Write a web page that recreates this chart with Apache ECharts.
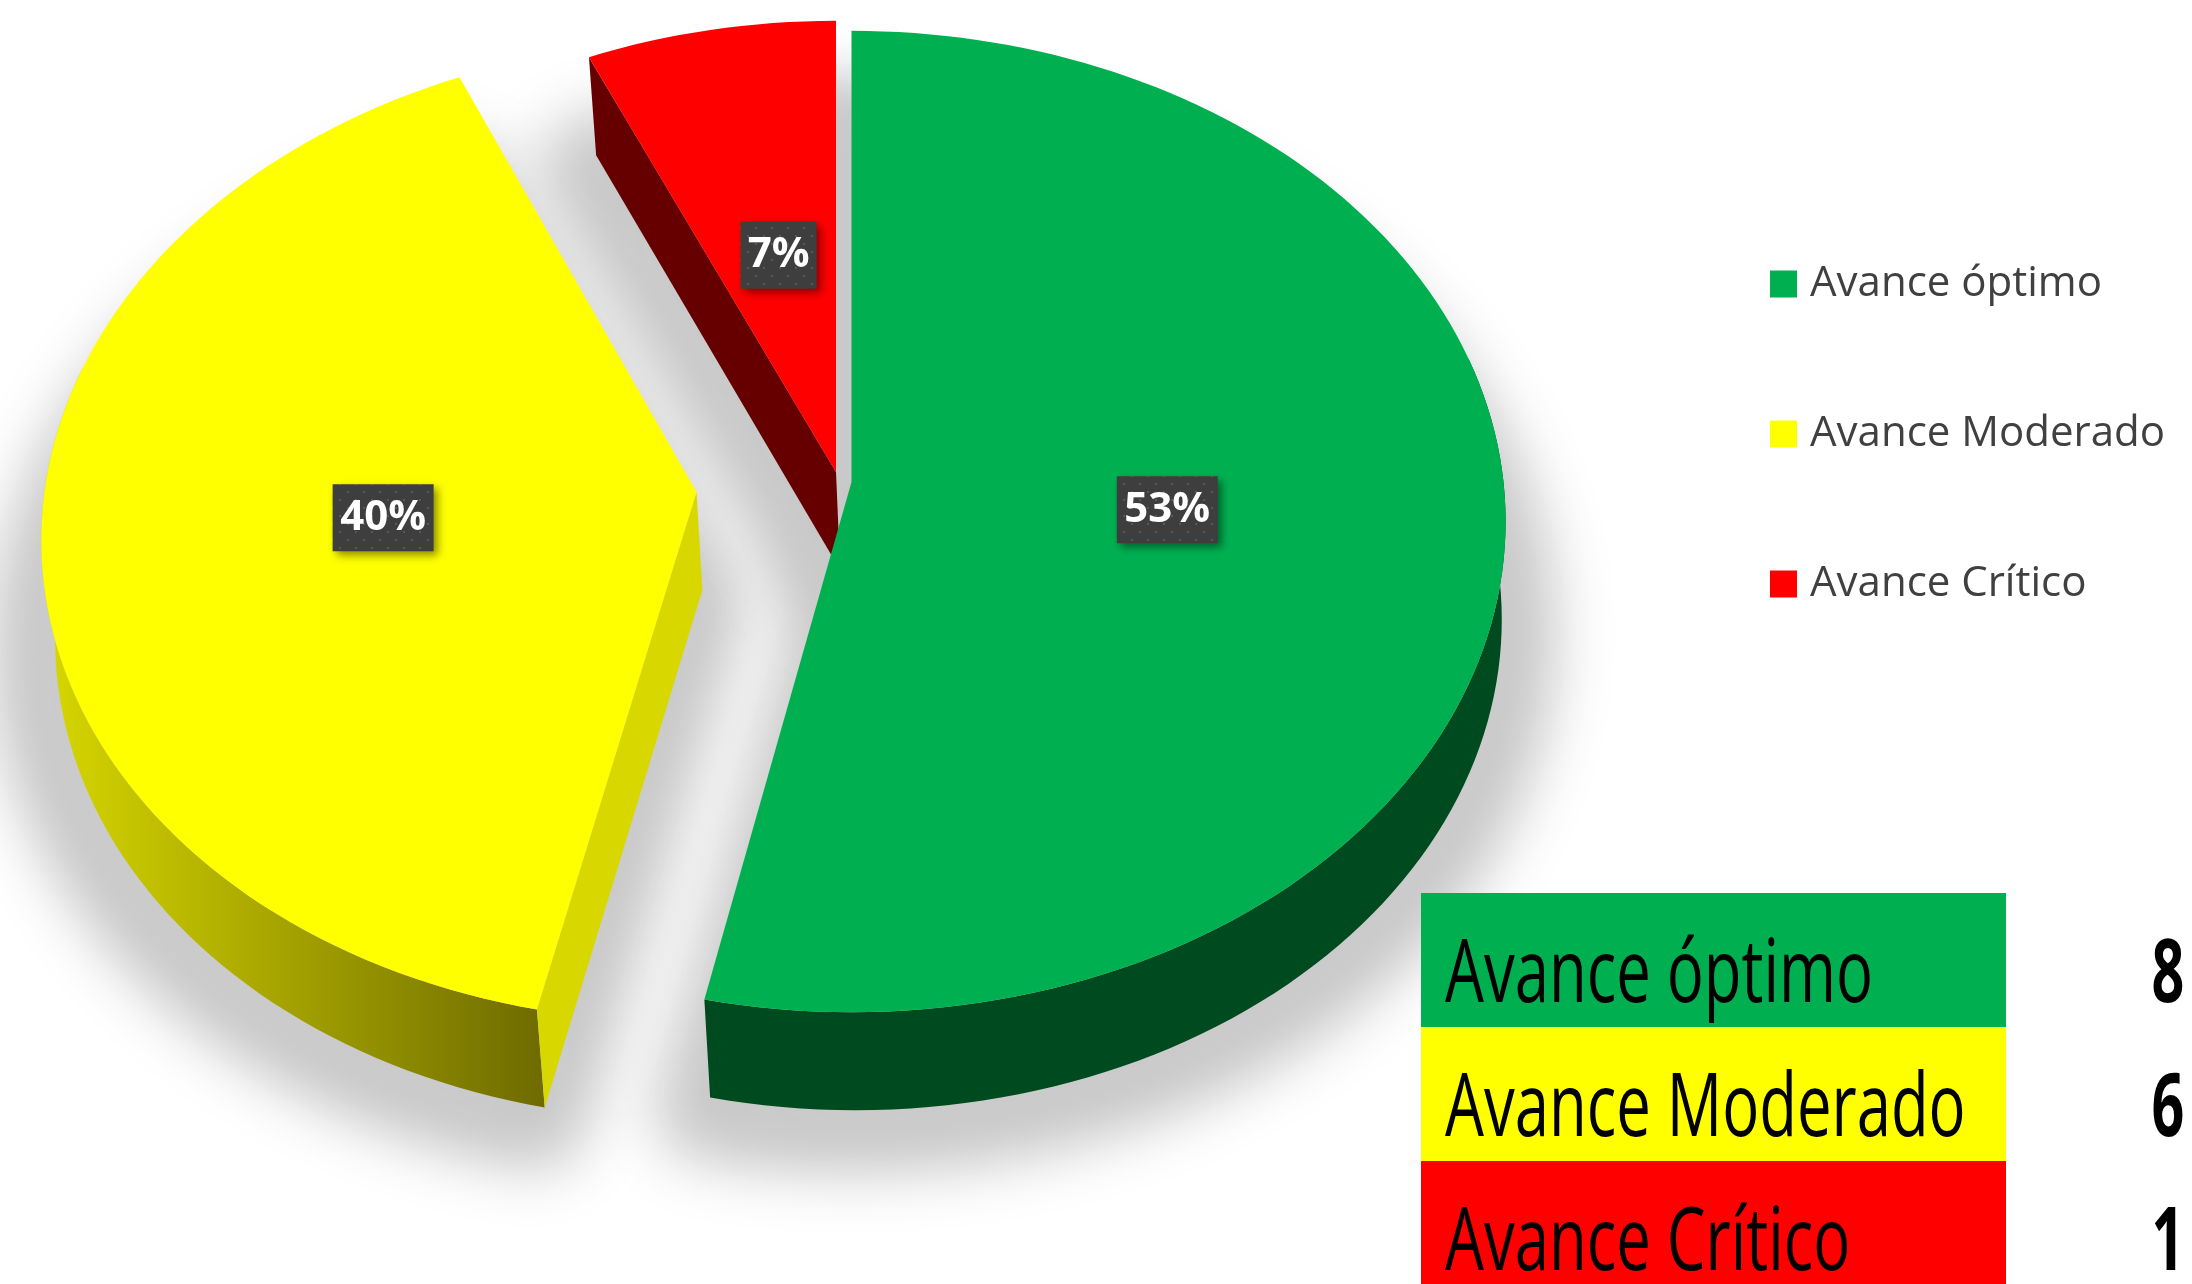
<!DOCTYPE html>
<html><head><meta charset="utf-8">
<style>html,body{margin:0;padding:0;background:#fff}#c{width:2192px;height:1284px}</style>
<script src="https://cdn.jsdelivr.net/npm/echarts@6/dist/echarts.min.js"></script>
</head><body><div id="c"></div>
<script>
const categories = ['Avance óptimo', 'Avance Moderado', 'Avance Crítico'];
const counts = [8, 6, 1];
const colors = ['#00B050', '#FFFF00', '#FF0000'];

// Projection of the tilted disc
const AX = 851.5, AY = 482, K = 652, VK = 487.5, P = 0.0805, DEPTH = 98, BOTTOM_SCALE = 0.988, WALL_DX = 4;
const explode = [[0, 0], [-155, 10], [-15.5, -10]];
const shear = [0, -0.024, 0];
const labelFrac = [0.485, 0.485, 0.478];
const labelNudge = [[0, 0], [3, -2], [5, 0]];
const total = counts.reduce((a, b) => a + b, 0);
const startAngles = counts.map((_, i) => counts.slice(0, i).reduce((a, b) => a + b, 0) / total * 360);
const spans = counts.map(v => v / total * 360);

function proj(deg, f, i) {
  const t = deg * Math.PI / 180, u = Math.sin(t) * f, v = -Math.cos(t) * f, s = 1 / (1 - P * v);
  const dy = VK * v * s;
  return [AX + explode[i][0] + K * u * s + shear[i] * dy, AY + explode[i][1] + dy];
}
const down = p => [AX + (p[0] - AX) * BOTTOM_SCALE + WALL_DX, p[1] + DEPTH];
function arc(a, b, i) {
  const n = Math.max(8, Math.ceil(Math.abs(b - a) / 1.5)), o = [];
  for (let k = 0; k <= n; k++) o.push(proj(a + (b - a) * k / n, 1, i));
  return o;
}
const poly = (pts, fill) => ({ type: 'polygon', shape: { points: pts }, style: { fill } });

function dotted() {
  const c = document.createElement('canvas'); c.width = c.height = 16;
  const g = c.getContext('2d');
  g.fillStyle = '#3e3e3e'; g.fillRect(0, 0, 16, 16);
  g.fillStyle = '#585858';
  g.fillRect(3, 3, 2, 2); g.fillRect(11, 11, 2, 2);
  return c;
}
const dots = dotted();

function slice(i) {
  return function (params, api) {
    const s = startAngles[i], e = s + spans[i];
    const apex = proj(0, 0, i), top = arc(s, e, i);
    const kids = [];
    if (i === 0) {
      const w = arc(75, e, i);
      kids.push(poly(w.concat(w.map(down).reverse()), '#004A20'));
    } else if (i === 1) {
      const w = arc(s, 285, i);
      kids.push(poly(w.concat(w.map(down).reverse()), {
        type: 'linear', x: 40, y: 0, x2: 545, y2: 0, global: true,
        colorStops: [{ offset: 0, color: '#D8D800' }, { offset: 1, color: '#6E6A00' }]
      }));
      const f = proj(s, 1, i);
      kids.push(poly([apex, f, down(f), down(apex)], '#D8D800'));
    } else {
      const b = proj(s, 1, i);
      kids.push(poly([b, apex, down(apex), down(b)], '#660000'));
    }
    kids.push(poly([apex].concat(top), api.visual('color')));

    // Data label
    const mid = s + spans[i] / 2, c = proj(mid, labelFrac[i], i);
    const txt = Math.round(api.value(0) / total * 100) + '%';
    const w = 25 * txt.length + 26, h = 67, cx = c[0] + labelNudge[i][0], cy = c[1] + 3 + labelNudge[i][1];
    kids.push({
      type: 'rect', shape: { x: cx - w / 2, y: cy - h / 2, width: w, height: h },
      style: { fill: { image: dots, repeat: 'repeat' }, shadowBlur: 9, shadowOffsetX: 4, shadowOffsetY: 4, shadowColor: 'rgba(0,0,0,0.45)' }
    });
    kids.push({
      type: 'text', x: cx, y: cy,
      style: { text: txt, fill: '#fff', font: 'bold 42px "Open Sans"', align: 'center', verticalAlign: 'middle' }
    });
    return { type: 'group', children: kids };
  };
}

// Only the soft shadow reaches the canvas: the casting shape sits off to the left of it.
const CAST = 4000, SHADOW_DROP = DEPTH + 13;
function shadowItem(params, api) {
  const i = params.dataIndex, s = startAngles[i], e = s + spans[i];
  const pts = [proj(0, 0, i)].concat(arc(s, e, i));
  return {
    type: 'polygon', shape: { points: pts.map(p => [p[0] - CAST, p[1] + SHADOW_DROP]) },
    style: {
      fill: '#C9C9C9', stroke: '#C9C9C9', lineWidth: 100, lineJoin: 'round',
      shadowBlur: 60, shadowColor: '#C9C9C9', shadowOffsetX: CAST
    }
  };
}

const series = categories.map((name, i) => ({
  type: 'custom', name, coordinateSystem: 'none', z: [5, 4, 3][i],
  itemStyle: { color: colors[i] }, data: [[counts[i]]], renderItem: slice(i), animation: false, silent: true
}));
series.push({
  type: 'custom', name: 'sombra', coordinateSystem: 'none', z: 1,
  data: counts.map(v => [v]), renderItem: shadowItem, animation: false, silent: true
});

const ROW_TOP = 893, ROW_H = 134, TX = 1445, NX = 2168;
const graphic = [];
categories.forEach((name, i) => {
  graphic.push({ type: 'rect', z: 20, shape: { x: 1421, y: ROW_TOP + i * ROW_H, width: 585, height: ROW_H }, style: { fill: colors[i] } });
  graphic.push({
    type: 'text', z: 21, x: TX, y: ROW_TOP + i * ROW_H + 128, scaleX: 0.708,
    style: { text: name, fill: '#000', font: '87px "Open Sans"', align: 'left', verticalAlign: 'bottom' }
  });
  graphic.push({
    type: 'text', z: 21, x: NX, y: ROW_TOP + i * ROW_H + 128, scaleX: 0.66,
    style: { text: String(counts[i]), fill: '#000', font: 'bold 87px "Open Sans"', align: 'center', verticalAlign: 'bottom' }
  });
});

const chart = echarts.init(document.getElementById('c'), null, { renderer: 'canvas' });
chart.setOption({
  backgroundColor: '#fff', animation: false,
  legend: {
    data: categories, orient: 'vertical', left: 1765, top: 258, icon: 'rect',
    itemWidth: 27, itemHeight: 27, itemGap: 108, selectedMode: false,
    textStyle: { color: '#404040', fontSize: 42, fontFamily: 'Open Sans', lineHeight: 42, padding: [0, 0, 0, 8] }
  },
  series, graphic
});
</script></body></html>
